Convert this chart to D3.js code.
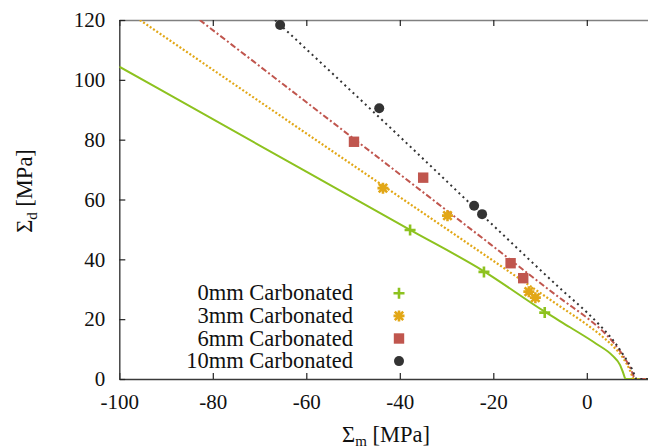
<!DOCTYPE html>
<html>
<head>
<meta charset="utf-8">
<script src="https://cdn.jsdelivr.net/npm/d3@7/dist/d3.min.js"></script>
</head>
<body style="margin:0">
<svg id="chart" width="648" height="447" style="display:block;background:#fff"></svg>
<script>
// Yield curves: Σd versus Σm for each carbonation depth
const curve0mm = [[-100, 104.4], [-60, 69.3], [-38, 50], [-22, 36], [-9, 22.5], [-3.6, 17.3], [2, 11.8], [5.5, 7.8], [7.1, 4.7], [7.8, 2], [8.3, 0], [20, 0]];
const curve3mm = [[-95.6, 120], [-60, 82.1], [-20, 39.5], [-5, 23.5], [0, 18.2], [3, 14.6], [5.6, 11], [7.8, 6.9], [9.2, 3], [9.8, 0.6], [10, 0], [20, 0]];
const curve6mm = [[-82.8, 120], [-50, 80.5], [-20, 44.3], [-5, 26.2], [0, 20.5], [3, 16.6], [6, 11.6], [8, 7.2], [9.5, 3], [10, 1], [10.3, 0], [20, 0]];
const curve10mm = [[-66.7, 120], [-40, 81], [-20, 51.3], [-5, 29.3], [0, 22.3], [3, 17.6], [6, 12.2], [8, 7.6], [9.6, 3.5], [10.3, 1], [10.6, 0], [20, 0]];

// Measured points
const points0mm = [[-37.8, 49.8], [-22, 35.8], [-9, 22.2]];
const points3mm = [[-43.6, 63.8], [-29.8, 54.6], [-12.4, 29.2], [-11, 27.2]];
const points6mm = [[-49.8, 79.3], [-35, 67.3], [-16.3, 38.7], [-13.6, 33.7]];
const points10mm = [[-65.6, 118.3], [-44.4, 90.5], [-24.1, 57.9], [-22.4, 55.1]];

const seriesNames = ["0mm Carbonated", "3mm Carbonated", "6mm Carbonated", "10mm Carbonated"];
const seriesColors = ["#8dc21f", "#e2a716", "#c0564e", "#333333"];

const xTicks = [-100, -80, -60, -40, -20, 0];
const yTicks = [0, 20, 40, 60, 80, 100, 120];

const FONT = '"Liberation Serif"';

const svg = d3.select("#chart").style("font-family", FONT);
const plotLeft = 119.3, plotTop = 20, plotBottom = 379;

const x = d3.scaleLinear().domain([-100, 20]).range([plotLeft, plotLeft + 561]);
const y = d3.scaleLinear().domain([0, 120]).range([plotBottom, plotTop]);

// Plot clip
svg.append("clipPath").attr("id", "plotclip")
  .append("rect").attr("x", plotLeft).attr("y", plotTop).attr("width", 600).attr("height", plotBottom - plotTop);

// Frame and ticks
const fmt = d => String(d);
const gx = svg.append("g").attr("transform", `translate(0,${plotBottom})`)
  .call(d3.axisBottom(x).tickValues(xTicks).tickFormat(fmt).tickSizeInner(-6).tickSizeOuter(0).tickPadding(15));
const gxTop = svg.append("g").attr("transform", `translate(0,${plotTop})`)
  .call(d3.axisTop(x).tickValues(xTicks).tickFormat("").tickSizeInner(-6).tickSizeOuter(0));
const gy = svg.append("g").attr("transform", `translate(${plotLeft},0)`)
  .call(d3.axisLeft(y).tickValues(yTicks).tickFormat(fmt).tickSizeInner(-6).tickSizeOuter(0).tickPadding(14));

[gx, gxTop, gy].forEach(g => {
  g.attr("font-family", null).attr("font-size", null);
  g.select(".domain").attr("stroke", "#3a3a3a").attr("stroke-width", 1.4);
  g.selectAll(".tick line").attr("stroke", "#222").attr("stroke-width", 1.2);
  g.selectAll(".tick text")
    .style("font-family", FONT).attr("font-size", 21).attr("fill", "#111")
    .each(function () {
      // wrap each label's content in a tspan
      const label = this.textContent;
      this.textContent = "";
      d3.select(this).append("tspan").text(label);
    });
});
gxTop.select(".domain").attr("stroke", "#808080");

// Curves
const line = d3.line().x(d => x(d[0])).y(d => y(d[1])).curve(d3.curveMonotoneX);
const curves = [curve0mm, curve3mm, curve6mm, curve10mm];
const dashes = [null, "2,2", "6,2.5,2,2.5", "2,3.6"];
const widths = [2, 2.2, 2, 2];
const plot = svg.append("g").attr("clip-path", "url(#plotclip)");
curves.forEach((c, i) => {
  plot.append("path").datum(c)
    .attr("d", line)
    .attr("fill", "none")
    .attr("stroke", seriesColors[i])
    .attr("stroke-width", widths[i])
    .attr("stroke-dasharray", dashes[i]);
});

// Marker shapes
function drawMarker(g, kind, color) {
  if (kind === 0) {
    g.append("path").attr("d", "M-5.5,0H5.5M0,-5.5V5.5")
      .attr("stroke", color).attr("stroke-width", 2.6).attr("fill", "none");
  } else if (kind === 1) {
    g.append("path").attr("d", "M-5.5,0H5.5M0,-5.5V5.5M-4.2,-4.2L4.2,4.2M-4.2,4.2L4.2,-4.2")
      .attr("stroke", color).attr("stroke-width", 2.6).attr("fill", "none");
  } else if (kind === 2) {
    g.append("rect").attr("x", -5.2).attr("y", -5.2).attr("width", 10.4).attr("height", 10.4)
      .attr("fill", color);
  } else {
    g.append("circle").attr("r", 5).attr("fill", color);
  }
}

const pointSets = [points0mm, points3mm, points6mm, points10mm];
pointSets.forEach((pts, i) => {
  pts.forEach(p => {
    const g = svg.append("g").attr("transform", `translate(${x(p[0])},${y(p[1])})`);
    drawMarker(g, i, seriesColors[i]);
  });
});

// Legend
seriesNames.forEach((name, i) => {
  const cy = 293.3 + i * 22.6;
  svg.append("text")
    .attr("x", 353).attr("y", cy + 7)
    .attr("text-anchor", "end")
    .attr("fill", "#111")
    .style("font-family", FONT).attr("font-size", 22.5)
    .append("tspan").text(name);
  const g = svg.append("g").attr("transform", `translate(399,${cy})`);
  drawMarker(g, i, seriesColors[i]);
});

// Axis titles
const xt = svg.append("text")
  .attr("x", 386).attr("y", 442)
  .attr("text-anchor", "middle")
  .attr("fill", "#111")
  .style("font-family", FONT).attr("font-size", 22.5);
xt.append("tspan").text("Σ");
xt.append("tspan").attr("font-size", 15).attr("dy", 4).text("m");
xt.append("tspan").attr("dy", -4).text(" [MPa]");

const yt = svg.append("text")
  .attr("transform", "translate(32,191) rotate(-90)")
  .attr("text-anchor", "middle")
  .attr("fill", "#111")
  .style("font-family", FONT).attr("font-size", 22.5);
yt.append("tspan").text("Σ");
yt.append("tspan").attr("font-size", 15).attr("dy", 5).text("d");
yt.append("tspan").attr("dy", -5).text(" [MPa]");
</script>
</body>
</html>
